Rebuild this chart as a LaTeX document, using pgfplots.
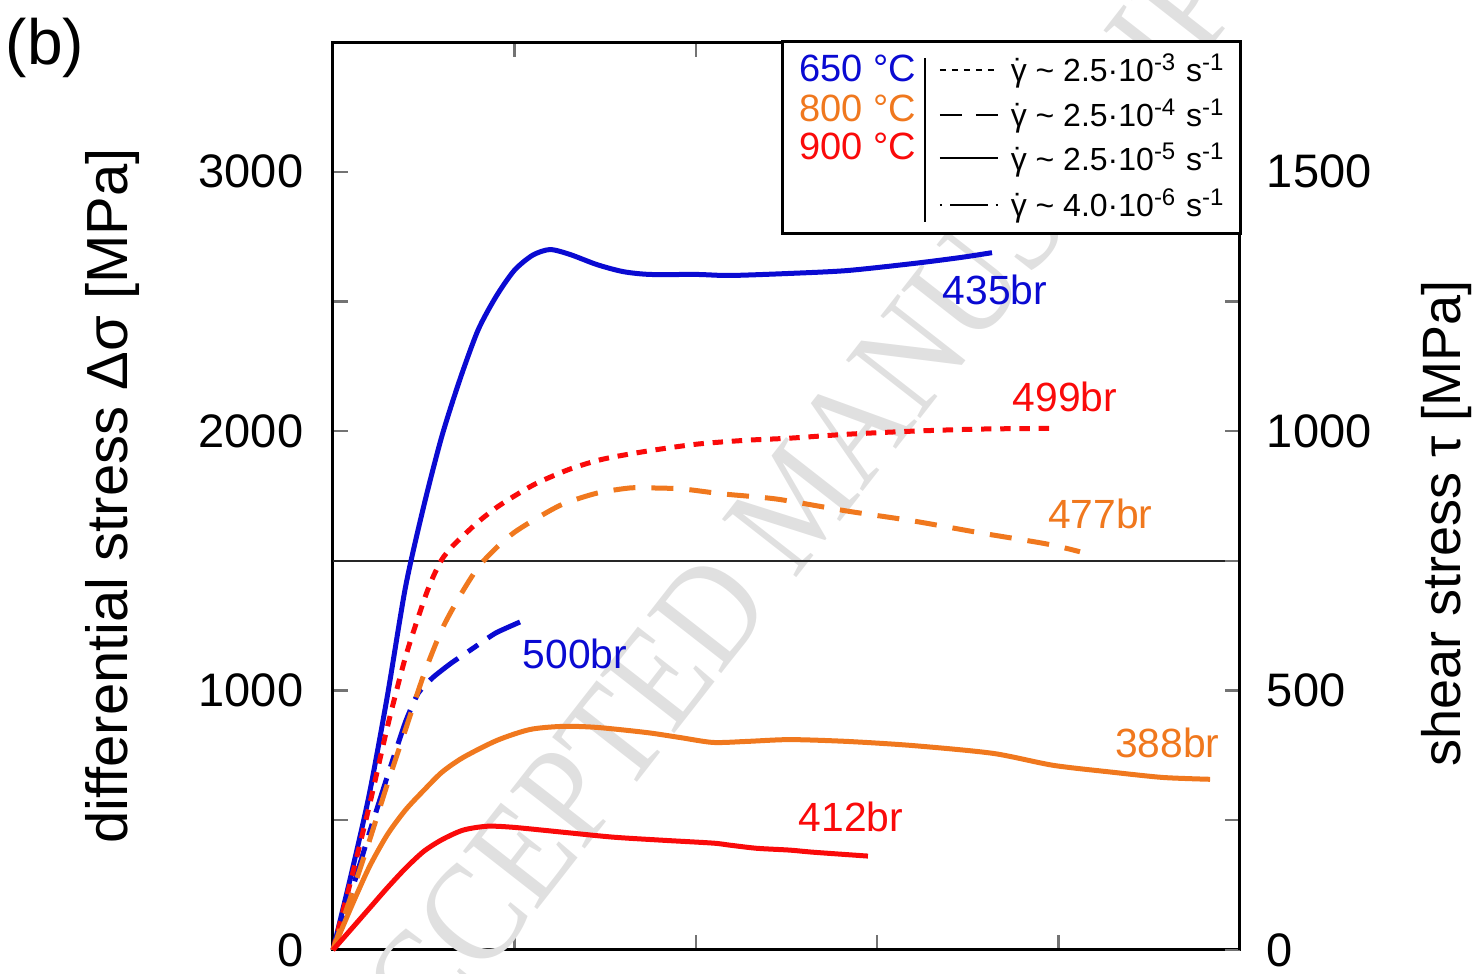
\documentclass[border=0pt]{standalone}
\usepackage{fontspec}
\setmainfont{Liberation Sans}
\newfontfamily\wmfont[FakeStretch=0.87]{Liberation Serif}
\usepackage{pgfplots}
\pgfplotsset{compat=1.18}

\definecolor{cblue}{RGB}{10,10,210}
\definecolor{corange}{RGB}{240,120,30}
\definecolor{cred}{RGB}{250,10,10}

\tikzset{
  r3/.style={dash pattern=on 2.6pt off 2.2pt},
  r4/.style={dash pattern=on 5.5pt off 4pt},
  r6/.style={dash pattern=on 9pt off 3pt on 3pt off 3pt},
}
\newcommand{\gdot}{\mbox{\ooalign{γ\cr\hidewidth˙\hidewidth\cr}}}

\begin{document}
\begin{tikzpicture}
\begin{axis}[
  scale only axis, width=226.75pt, height=227pt,
  xmin=0, xmax=5, ymin=0, ymax=3500,
  clip=false,
  xtick={1,2,3,4}, xticklabels={},
  ytick={0,500,...,3500}, yticklabels={0,,1000,,2000,,3000,},
  ytick pos=left,
  tick align=inside, major tick length=3.75pt,
  every tick/.style={black!55, line width=0.6pt},
  axis line style={line width=0.75pt},
  tick label style={font=\fontsize{11.75}{13}\selectfont},
  yticklabel style={xshift=-3.9pt},
  ylabel={differential stress Δσ [MPa]},
  ylabel style={font=\fontsize{14.5}{16}\selectfont,
    at={([xshift=-55pt]axis description cs:0,0.5)}, anchor=center},
  every axis plot/.append style={line width=1.25pt, smooth, tension=0.45},
]
% watermark
\node[rotate=52, text=black!12, font=\wmfont\fontsize{36}{36}\selectfont]
  at (axis cs:2.558,1731) {ACCEPTED MANUSCRIPT};

\addplot[black!85, line width=0.6pt, sharp plot] coordinates {(0,1500) (5,1500)};

% 650 C, 2.5e-5 (435br)
\addplot[cblue] coordinates {
(0,0) (0.1,290) (0.2,600) (0.3,980) (0.4,1400) (0.5,1710) (0.6,1980) (0.7,2200)
(0.8,2390) (0.9,2520) (1.0,2620) (1.1,2678) (1.196,2700) (1.307,2681) (1.455,2642)
(1.599,2615) (1.748,2604) (2.007,2604) (2.189,2600) (2.519,2608) (2.834,2619)
(3.197,2646) (3.456,2669) (3.633,2688)};

% 650 C, 4.0e-6 (500br)
\addplot[cblue, r6, tension=0.3] coordinates {
(0,0) (0.1,220) (0.2,450) (0.3,670) (0.4,880) (0.47,990) (0.55,1050) (0.65,1105)
(0.77,1162) (0.9,1223) (1.086,1281)};

% 900 C, 2.5e-3 (499br)
\addplot[cred, r3] coordinates {
(0,0) (0.1,272) (0.2,555) (0.3,860) (0.4,1130) (0.5,1345) (0.55,1435) (0.6,1505)
(0.65,1550) (0.7,1585) (0.8,1650) (0.9,1705) (1.0,1750) (1.125,1800) (1.307,1854)
(1.488,1892) (1.731,1923) (2.007,1950) (2.282,1965) (2.519,1973) (2.834,1988)
(3.197,2000) (3.567,2008) (3.991,2011)};

% 800 C, 2.5e-4 (477br)
\addplot[corange, r4] coordinates {
(0,0) (0.1,210) (0.2,420) (0.3,640) (0.4,850) (0.5,1060) (0.6,1235) (0.7,1365)
(0.8,1475) (0.9,1550) (1.0,1610) (1.125,1665) (1.268,1719) (1.455,1761)
(1.637,1781) (1.764,1781) (1.929,1777) (2.150,1758) (2.448,1738) (2.834,1692)
(3.197,1654) (3.567,1608) (3.936,1565) (4.118,1535)};

% 800 C, 2.5e-5 (388br)
\addplot[corange] coordinates {
(0,0) (0.1,165) (0.2,320) (0.3,445) (0.4,540) (0.5,615) (0.6,685) (0.717,742)
(0.904,808) (1.086,850) (1.268,862) (1.455,858) (1.731,838) (1.913,819)
(2.095,800) (2.282,804) (2.519,811) (2.834,804) (3.197,788) (3.638,758)
(3.969,712) (4.300,685) (4.576,665) (4.835,658)};

% 900 C, 2.5e-5 (412br)
\addplot[cred] coordinates {
(0,0) (0.1,80) (0.2,160) (0.3,240) (0.4,315) (0.5,380) (0.6,425) (0.717,462)
(0.849,477) (0.992,473) (1.268,454) (1.544,435) (1.819,423) (2.095,412)
(2.189,404) (2.337,392) (2.519,385) (2.646,377) (2.949,362)};

\begin{scope}[font=\fontsize{10.2}{12}\selectfont]
\node[text=cblue]   at (axis cs:3.65,2546) {435br};
\node[text=cred]    at (axis cs:4.035,2131) {499br};
\node[text=corange] at (axis cs:4.23,1681) {477br};
\node[text=cblue]   at (axis cs:1.334,1142) {500br};
\node[text=corange] at (axis cs:4.60,800) {388br};
\node[text=cred]    at (axis cs:2.856,512) {412br};
\end{scope}
\end{axis}

\begin{axis}[
  scale only axis, width=226.75pt, height=227pt,
  xmin=0, xmax=5, ymin=0, ymax=1750,
  axis x line=none, axis y line*=right,
  ytick={0,250,...,1750}, yticklabels={0,,500,,1000,,1500,},
  tick align=inside, major tick length=3.75pt,
  every tick/.style={black!55, line width=0.6pt},
  axis line style={line width=0.75pt},
  tick label style={font=\fontsize{11.75}{13}\selectfont},
  yticklabel style={xshift=3.2pt},
  ylabel={shear stress τ [MPa]},
  ylabel style={font=\fontsize{13.5}{15}\selectfont,
    at={([xshift=51.75pt]axis description cs:1,0.47)}, anchor=center, rotate=0},
]
\end{axis}

% legend
\draw[line width=0.75pt, fill=white] (112.5pt,179pt) rectangle (226.75pt,227pt);
\draw[line width=0.4pt] (148pt,182pt) -- (148pt,223pt);
\begin{scope}[font=\fontsize{9.5}{11}\selectfont]
\node[anchor=east, text=cblue, inner sep=0pt]   at (146pt,220.5pt) {650 °C};
\node[anchor=east, text=corange, inner sep=0pt] at (146pt,210.5pt) {800 °C};
\node[anchor=east, text=cred, inner sep=0pt]    at (146pt,201pt) {900 °C};
\end{scope}
\begin{scope}[line width=0.45pt]
\draw[dash pattern=on 1.5pt off 1.5pt] (151.75pt,220pt) -- (166.25pt,220pt);
\draw[dash pattern=on 5.5pt off 3.5pt] (151.75pt,208.75pt) -- (166.25pt,208.75pt);
\draw (151.75pt,198pt) -- (166.25pt,198pt);
\draw[dash pattern=on 0.6pt off 2pt on 9.3pt off 2pt] (151.75pt,186.25pt) -- (166.25pt,186.25pt);
\end{scope}
\begin{scope}[font=\fontsize{8}{9}\selectfont]
\node[anchor=west, inner sep=0pt] at (169.25pt,220.5pt) {\gdot{} \textasciitilde{} 2.5·10\textsuperscript{-3} s\textsuperscript{-1}};
\node[anchor=west, inner sep=0pt] at (169.25pt,209.25pt) {\gdot{} \textasciitilde{} 2.5·10\textsuperscript{-4} s\textsuperscript{-1}};
\node[anchor=west, inner sep=0pt] at (169.25pt,198.25pt) {\gdot{} \textasciitilde{} 2.5·10\textsuperscript{-5} s\textsuperscript{-1}};
\node[anchor=west, inner sep=0pt] at (169.25pt,186.75pt) {\gdot{} \textasciitilde{} 4.0·10\textsuperscript{-6} s\textsuperscript{-1}};
\end{scope}

\node[font=\fontsize{16}{18}\selectfont] at (-72pt,225.5pt) {(b)};

\pgfresetboundingbox
\useasboundingbox (-83.25pt,-6pt) rectangle (287pt,237.5pt);
\end{tikzpicture}
\end{document}
